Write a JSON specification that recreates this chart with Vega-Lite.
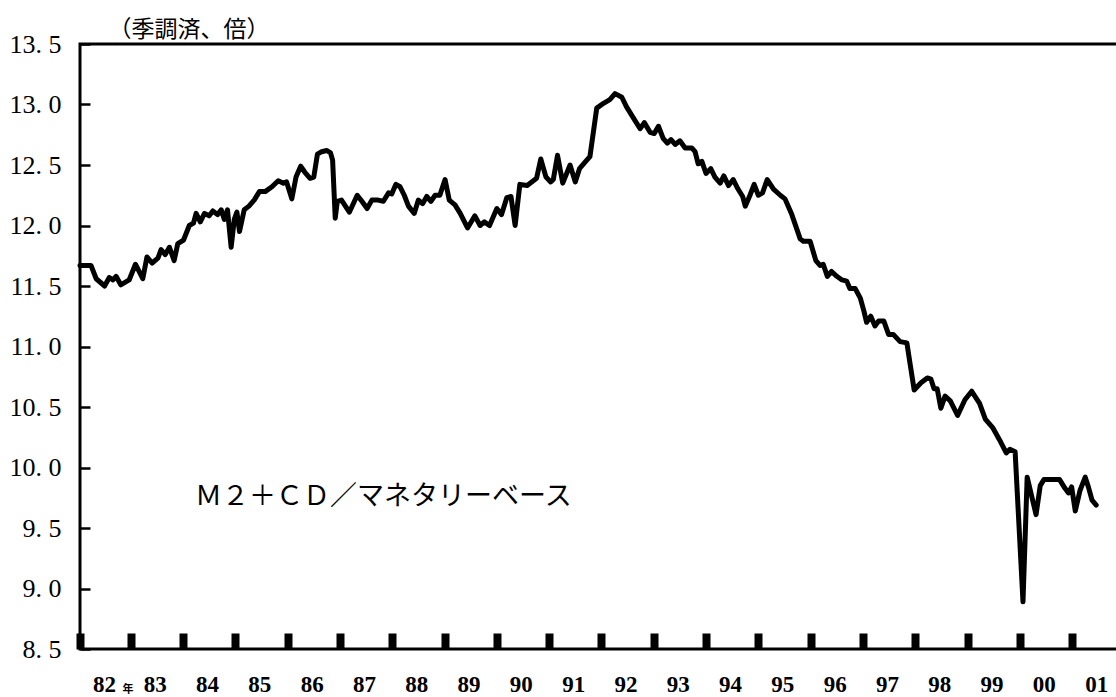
{
  "$schema": "https://vega.github.io/schema/vega-lite/v6.json",
  "width": 1040,
  "height": 605,
  "autosize": "none",
  "padding": {"left": 80, "top": 44, "right": 0, "bottom": 48},
  "background": "white",
  "config": {
    "view": {"stroke": "black", "strokeWidth": 3},
    "axis": {"grid": false, "domain": false}
  },
  "layer": [
    {
      "data": {"values": [
        {"t": 1982.03, "v": 11.67}, {"t": 1982.24, "v": 11.67}, {"t": 1982.34, "v": 11.56}, {"t": 1982.50, "v": 11.50},
        {"t": 1982.59, "v": 11.57}, {"t": 1982.66, "v": 11.55}, {"t": 1982.72, "v": 11.58}, {"t": 1982.81, "v": 11.51},
        {"t": 1982.97, "v": 11.55}, {"t": 1983.09, "v": 11.68}, {"t": 1983.23, "v": 11.56}, {"t": 1983.31, "v": 11.74},
        {"t": 1983.41, "v": 11.69}, {"t": 1983.52, "v": 11.73}, {"t": 1983.58, "v": 11.80}, {"t": 1983.66, "v": 11.76},
        {"t": 1983.74, "v": 11.82}, {"t": 1983.83, "v": 11.71}, {"t": 1983.90, "v": 11.85}, {"t": 1984.01, "v": 11.88},
        {"t": 1984.12, "v": 12.00}, {"t": 1984.20, "v": 12.02}, {"t": 1984.25, "v": 12.10}, {"t": 1984.33, "v": 12.03},
        {"t": 1984.41, "v": 12.10}, {"t": 1984.50, "v": 12.08}, {"t": 1984.57, "v": 12.12}, {"t": 1984.66, "v": 12.09},
        {"t": 1984.73, "v": 12.13}, {"t": 1984.79, "v": 12.05}, {"t": 1984.85, "v": 12.13}, {"t": 1984.92, "v": 11.82},
        {"t": 1984.98, "v": 12.05}, {"t": 1985.03, "v": 12.11}, {"t": 1985.08, "v": 11.95}, {"t": 1985.17, "v": 12.13},
        {"t": 1985.26, "v": 12.16}, {"t": 1985.36, "v": 12.21}, {"t": 1985.46, "v": 12.28}, {"t": 1985.57, "v": 12.28},
        {"t": 1985.70, "v": 12.32}, {"t": 1985.82, "v": 12.37}, {"t": 1985.92, "v": 12.35}, {"t": 1985.98, "v": 12.36},
        {"t": 1986.08, "v": 12.22}, {"t": 1986.16, "v": 12.40}, {"t": 1986.25, "v": 12.49}, {"t": 1986.33, "v": 12.44},
        {"t": 1986.43, "v": 12.39}, {"t": 1986.50, "v": 12.40}, {"t": 1986.57, "v": 12.59}, {"t": 1986.65, "v": 12.61},
        {"t": 1986.75, "v": 12.62}, {"t": 1986.82, "v": 12.60}, {"t": 1986.86, "v": 12.54}, {"t": 1986.91, "v": 12.06},
        {"t": 1986.95, "v": 12.20}, {"t": 1987.03, "v": 12.21}, {"t": 1987.18, "v": 12.11}, {"t": 1987.33, "v": 12.25},
        {"t": 1987.42, "v": 12.20}, {"t": 1987.52, "v": 12.14}, {"t": 1987.61, "v": 12.21}, {"t": 1987.73, "v": 12.21},
        {"t": 1987.83, "v": 12.20}, {"t": 1987.93, "v": 12.27}, {"t": 1987.99, "v": 12.26}, {"t": 1988.07, "v": 12.34},
        {"t": 1988.15, "v": 12.32}, {"t": 1988.23, "v": 12.25}, {"t": 1988.31, "v": 12.16}, {"t": 1988.42, "v": 12.10},
        {"t": 1988.50, "v": 12.21}, {"t": 1988.58, "v": 12.18}, {"t": 1988.66, "v": 12.24}, {"t": 1988.74, "v": 12.20},
        {"t": 1988.82, "v": 12.25}, {"t": 1988.91, "v": 12.25}, {"t": 1989.01, "v": 12.38}, {"t": 1989.09, "v": 12.21},
        {"t": 1989.20, "v": 12.17}, {"t": 1989.30, "v": 12.10}, {"t": 1989.44, "v": 11.98}, {"t": 1989.58, "v": 12.08},
        {"t": 1989.68, "v": 12.00}, {"t": 1989.76, "v": 12.03}, {"t": 1989.86, "v": 12.00}, {"t": 1990.00, "v": 12.14},
        {"t": 1990.09, "v": 12.09}, {"t": 1990.19, "v": 12.23}, {"t": 1990.27, "v": 12.24}, {"t": 1990.35, "v": 12.00},
        {"t": 1990.44, "v": 12.34}, {"t": 1990.58, "v": 12.33}, {"t": 1990.76, "v": 12.39}, {"t": 1990.84, "v": 12.55},
        {"t": 1990.94, "v": 12.40}, {"t": 1991.03, "v": 12.36}, {"t": 1991.08, "v": 12.38}, {"t": 1991.16, "v": 12.58},
        {"t": 1991.26, "v": 12.35}, {"t": 1991.40, "v": 12.50}, {"t": 1991.50, "v": 12.36}, {"t": 1991.58, "v": 12.47},
        {"t": 1991.72, "v": 12.54}, {"t": 1991.78, "v": 12.57}, {"t": 1991.91, "v": 12.97}, {"t": 1992.04, "v": 13.01},
        {"t": 1992.16, "v": 13.04}, {"t": 1992.26, "v": 13.09}, {"t": 1992.39, "v": 13.06}, {"t": 1992.48, "v": 12.98},
        {"t": 1992.61, "v": 12.89}, {"t": 1992.74, "v": 12.80}, {"t": 1992.82, "v": 12.85}, {"t": 1992.93, "v": 12.77},
        {"t": 1993.01, "v": 12.76}, {"t": 1993.09, "v": 12.82}, {"t": 1993.18, "v": 12.72}, {"t": 1993.26, "v": 12.68},
        {"t": 1993.33, "v": 12.71}, {"t": 1993.41, "v": 12.67}, {"t": 1993.50, "v": 12.70}, {"t": 1993.60, "v": 12.64},
        {"t": 1993.73, "v": 12.64}, {"t": 1993.79, "v": 12.61}, {"t": 1993.85, "v": 12.51}, {"t": 1993.92, "v": 12.53},
        {"t": 1994.00, "v": 12.43}, {"t": 1994.09, "v": 12.47}, {"t": 1994.17, "v": 12.40}, {"t": 1994.27, "v": 12.35},
        {"t": 1994.34, "v": 12.41}, {"t": 1994.43, "v": 12.33}, {"t": 1994.52, "v": 12.38}, {"t": 1994.60, "v": 12.31},
        {"t": 1994.70, "v": 12.24}, {"t": 1994.75, "v": 12.16}, {"t": 1994.84, "v": 12.25}, {"t": 1994.92, "v": 12.34},
        {"t": 1995.00, "v": 12.25}, {"t": 1995.08, "v": 12.27}, {"t": 1995.17, "v": 12.38}, {"t": 1995.29, "v": 12.30},
        {"t": 1995.42, "v": 12.25}, {"t": 1995.51, "v": 12.22}, {"t": 1995.64, "v": 12.09}, {"t": 1995.80, "v": 11.89},
        {"t": 1995.86, "v": 11.87}, {"t": 1995.99, "v": 11.87}, {"t": 1996.10, "v": 11.71}, {"t": 1996.18, "v": 11.67},
        {"t": 1996.24, "v": 11.68}, {"t": 1996.32, "v": 11.58}, {"t": 1996.40, "v": 11.62}, {"t": 1996.50, "v": 11.58},
        {"t": 1996.60, "v": 11.55}, {"t": 1996.69, "v": 11.54}, {"t": 1996.75, "v": 11.48}, {"t": 1996.85, "v": 11.48},
        {"t": 1996.95, "v": 11.40}, {"t": 1997.02, "v": 11.29}, {"t": 1997.07, "v": 11.20}, {"t": 1997.15, "v": 11.25},
        {"t": 1997.23, "v": 11.17}, {"t": 1997.30, "v": 11.21}, {"t": 1997.40, "v": 11.21}, {"t": 1997.49, "v": 11.10},
        {"t": 1997.58, "v": 11.10}, {"t": 1997.71, "v": 11.04}, {"t": 1997.84, "v": 11.03}, {"t": 1997.90, "v": 10.86},
        {"t": 1997.98, "v": 10.64}, {"t": 1998.11, "v": 10.70}, {"t": 1998.23, "v": 10.74}, {"t": 1998.30, "v": 10.73},
        {"t": 1998.36, "v": 10.65}, {"t": 1998.42, "v": 10.65}, {"t": 1998.49, "v": 10.49}, {"t": 1998.57, "v": 10.59},
        {"t": 1998.67, "v": 10.55}, {"t": 1998.81, "v": 10.43}, {"t": 1998.95, "v": 10.56}, {"t": 1999.08, "v": 10.63},
        {"t": 1999.23, "v": 10.53}, {"t": 1999.34, "v": 10.40}, {"t": 1999.48, "v": 10.33}, {"t": 1999.61, "v": 10.23},
        {"t": 1999.74, "v": 10.12}, {"t": 1999.81, "v": 10.15}, {"t": 1999.91, "v": 10.13}, {"t": 2000.06, "v": 8.89},
        {"t": 2000.14, "v": 9.92}, {"t": 2000.31, "v": 9.61}, {"t": 2000.39, "v": 9.85}, {"t": 2000.46, "v": 9.90},
        {"t": 2000.61, "v": 9.90}, {"t": 2000.76, "v": 9.90}, {"t": 2000.86, "v": 9.83}, {"t": 2000.93, "v": 9.79},
        {"t": 2000.99, "v": 9.84}, {"t": 2001.06, "v": 9.64}, {"t": 2001.15, "v": 9.81}, {"t": 2001.25, "v": 9.92},
        {"t": 2001.31, "v": 9.84}, {"t": 2001.38, "v": 9.73}, {"t": 2001.46, "v": 9.69}
      ]},
      "mark": {"type": "line", "color": "black", "strokeWidth": 5, "strokeJoin": "round", "strokeCap": "round"},
      "encoding": {
        "x": {
          "field": "t", "type": "quantitative",
          "scale": {"domain": [1982.03, 2001.915], "nice": false, "zero": false},
          "axis": {
            "title": null,
            "values": [1982.03, 1983, 1984, 1985, 1986, 1987, 1988, 1989, 1990, 1991, 1992, 1993, 1994, 1995, 1996, 1997, 1998, 1999, 2000, 2001],
            "tickSize": -16, "tickWidth": 8, "tickColor": "black",
            "labelExpr": "(floor(datum.value) % 100 < 10 ? '0' : '') + (floor(datum.value) % 100)",
            "labelOffset": 24,
            "labelFont": "Liberation Serif", "labelFontSize": 23, "labelFontWeight": "bold", "labelColor": "black",
            "labelPadding": 40, "labelOverlap": false, "labelFlush": false, "labelBound": false
          }
        },
        "y": {
          "field": "v", "type": "quantitative",
          "scale": {"domain": [8.5, 13.5], "nice": false, "zero": false},
          "axis": {
            "values": [8.5, 9, 9.5, 10, 10.5, 11, 11.5, 12, 12.5, 13, 13.5],
            "offset": -10,
            "title": "（季調済、倍）",
            "titleAngle": 0, "titleAlign": "left", "titleBaseline": "alphabetic",
            "titleX": 18, "titleY": -8,
            "titleFont": "Noto Sans CJK JP", "titleFontSize": 23, "titleFontWeight": "normal", "titleColor": "black",
            "ticks": true, "tickSize": 10, "tickWidth": 2.5, "tickColor": "black",
            "labelExpr": "replace(format(datum.value, '.1f'), '.', '. ')",
            "labelFont": "Liberation Serif", "labelFontSize": 26, "labelColor": "black",
            "labelPadding": 19, "labelOverlap": false, "labelFlush": false, "labelBound": false
          }
        }
      }
    },
    {
      "data": {"values": [{"label": "Ｍ２＋ＣＤ／マネタリーベース"}]},
      "mark": {"type": "text", "align": "left", "baseline": "middle", "font": "Noto Sans CJK JP", "fontSize": 27, "color": "black"},
      "encoding": {
        "x": {"datum": 1984.23},
        "y": {"datum": 9.76},
        "text": {"field": "label"}
      }
    },
    {
      "data": {"values": [{"label": "年"}]},
      "mark": {"type": "text", "align": "center", "baseline": "middle", "font": "Noto Sans CJK JP", "fontSize": 11, "fontWeight": "bold", "color": "black"},
      "encoding": {
        "x": {"datum": 1982.95},
        "y": {"datum": 8.165},
        "text": {"field": "label"}
      }
    }
  ]
}
